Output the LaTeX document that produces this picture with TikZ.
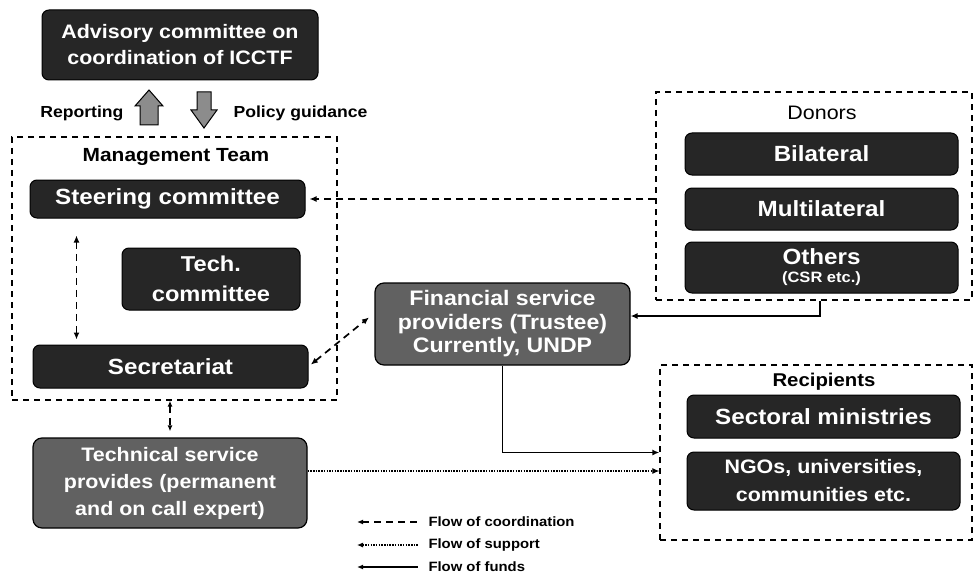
\documentclass[tikz,border=0pt]{standalone}
\usepackage{fontspec}
\setmainfont{Liberation Sans}[FakeStretch=1.1]
\usetikzlibrary{arrows.meta}

\newcommand{\fs}[2]{\fontsize{#1}{#2}\selectfont}

\tikzset{
  darkbox/.style={fill=black!85, draw=black, line width=1pt, rounded corners=7pt,
    text=white, align=center, inner sep=2pt},
  midbox/.style={fill=black!62, draw=black, line width=1.2pt, rounded corners=9pt,
    text=white, align=center, inner sep=2pt},
  group/.style={draw=black, line width=1.3pt, dash pattern=on 6pt off 5pt},
  tip/.style={-{Latex[length=7pt,width=6pt]}},
  coordflow/.style={line width=1.7pt, dash pattern=on 7pt off 5pt},
  supportflow/.style={line width=1.1pt, dash pattern=on 1.5pt off 1.2pt},
  fundflow/.style={line width=1.4pt},
  blockarrow/.style={fill=black!45, draw=black, line width=1pt},
}

\begin{document}
\begin{tikzpicture}[x=1pt,y=-1pt]
\useasboundingbox (0,0) rectangle (974,575);

% top-level advisory body
\node[darkbox, minimum width=276, minimum height=70, font=\bfseries\fs{19.5}{26}] (adv) at (180,45)
  {Advisory committee on\\coordination of ICCTF};

% reporting / guidance block arrows
\draw[blockarrow] (140,125) -- (140,106) -- (135,106) -- (149,90) -- (163,106)
  -- (158,106) -- (158,125) -- cycle;
\draw[blockarrow] (197,92) -- (211,92) -- (211,110) -- (217,110) -- (204,128)
  -- (191,110) -- (197,110) -- cycle;
\node[anchor=east, font=\bfseries\fs{16}{18}] (rep) at (127,113) {Reporting};
\node[anchor=west, font=\bfseries\fs{16}{18}] (pol) at (230,113) {Policy guidance};

% management team
\node[group, minimum width=325, minimum height=263] (mgmt) at (174.5,268.5) {};
\node[font=\bfseries\fs{19}{20}] (mgmtt) at (176,157) {Management Team};
\node[darkbox, minimum width=275, minimum height=38, font=\bfseries\fs{22}{24}] (steer) at (167.5,199)
  {Steering committee};
\node[darkbox, minimum width=178, minimum height=62, font=\bfseries\fs{21.5}{30}] (tech) at (211,279)
  {Tech.\\committee};
\node[darkbox, minimum width=275, minimum height=43, font=\bfseries\fs{22}{24}] (secr) at (170.5,366.5)
  {Secretariat};

% financial service providers
\node[midbox, minimum width=255, minimum height=82, font=\bfseries\fs{21}{23.5}] (fin) at (502.5,324)
  {Financial service\\providers (Trustee)\\Currently, UNDP};

% technical service providers
\node[midbox, minimum width=274, minimum height=90, font=\bfseries\fs{19.5}{27}] (tsp) at (170,483)
  {Technical service\\provides (permanent\\and on call expert)};

% donors
\node[group, minimum width=316, minimum height=208] (donors) at (814,196) {};
\node[font=\fs{19.5}{20}] (dont) at (822,113) {Donors};
\node[darkbox, minimum width=273, minimum height=42, font=\bfseries\fs{22}{24}] (bil) at (821.5,154)
  {Bilateral};
\node[darkbox, minimum width=273, minimum height=42, font=\bfseries\fs{22}{24}] (mul) at (821.5,209)
  {Multilateral};
\node[darkbox, minimum width=273, minimum height=51, font=\bfseries\fs{22}{18}] (oth) at (821.5,267.5)
  {Others\\{\fs{15}{16}(CSR etc.)}};

% recipients
\node[group, minimum width=312, minimum height=175] (recip) at (816,452.5) {};
\node[font=\bfseries\fs{18.5}{20}] (rect) at (824,382) {Recipients};
\node[darkbox, minimum width=273, minimum height=43, font=\bfseries\fs{22}{24}] (sect) at (823.5,416.5)
  {Sectoral ministries};
\node[darkbox, minimum width=273, minimum height=58, font=\bfseries\fs{19.5}{28}] (ngo) at (823.5,481)
  {NGOs, universities,\\communities etc.};

% flows of coordination
\draw[coordflow, tip, shorten >=4pt] (donors.west |- steer.east) -- (steer.east);
\draw[coordflow, {Latex[length=7pt,width=6pt]}-{Latex[length=7pt,width=6pt]},
  shorten <=17pt, shorten >=5pt]
  ([xshift=47pt]steer.south west) -- ([xshift=44pt]secr.north west);
\draw[coordflow, {Latex[length=7pt,width=6pt]}-{Latex[length=7pt,width=6pt]},
  shorten <=3pt, shorten >=7pt]
  (secr.east) -- ([yshift=11pt]fin.west);
\draw[coordflow, {Latex[length=6pt,width=5pt]}-{Latex[length=6pt,width=5pt]},
  shorten >=6pt]
  (tsp.north |- mgmt.south) -- (tsp.north);

% flows of funds
\draw[fundflow, tip] ([xshift=6pt]donors.south) |- ([yshift=8pt]fin.east);
\draw[fundflow, tip] (fin.south) |- (recip.west);

% flow of support
\draw[supportflow, tip] ([yshift=12pt]tsp.east) -- ([yshift=12pt]tsp.east -| recip.west);

% legend
\coordinate (l1a) at (357,522); \coordinate (l1b) at (418,522);
\coordinate (l2a) at (357,545); \coordinate (l2b) at (418,545);
\coordinate (l3a) at (357,567); \coordinate (l3b) at (418,567);
\draw[coordflow, {Latex[length=6pt,width=5pt]}-] (l1a) -- (l1b);
\draw[supportflow, {Latex[length=6pt,width=5pt]}-] (l2a) -- (l2b);
\draw[fundflow, {Latex[length=6pt,width=5pt]}-] (l3a) -- (l3b);
\node[anchor=west, font=\bfseries\fs{13.5}{15}] (lt1) at (425,522) {Flow of coordination};
\node[anchor=west, font=\bfseries\fs{13.5}{15}] (lt2) at (425,545) {Flow of support};
\node[anchor=west, font=\bfseries\fs{13.5}{15}] (lt3) at (425,567) {Flow of funds};
\end{tikzpicture}
\end{document}
